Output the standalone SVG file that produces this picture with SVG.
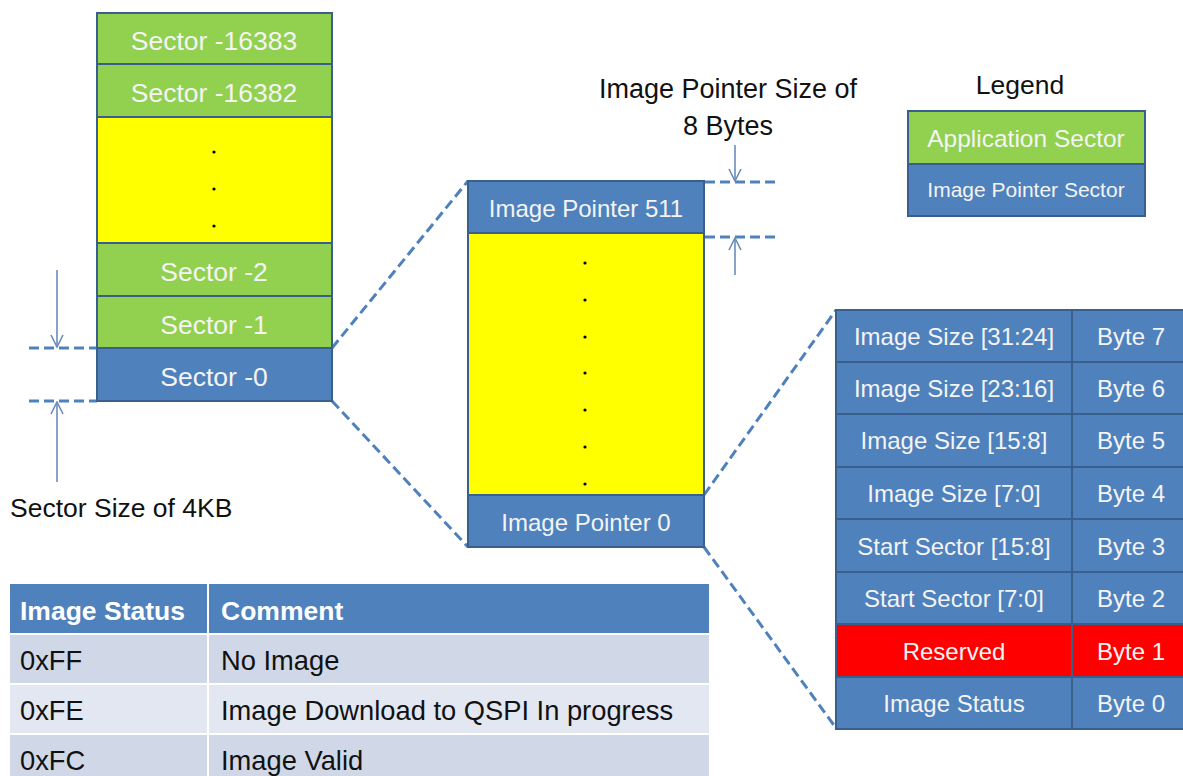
<svg xmlns="http://www.w3.org/2000/svg" width="1183" height="776" viewBox="0 0 1183 776">
<defs>
<style>
text{font-family:"Liberation Sans",Arial,sans-serif;}
.g{fill:#92D050;stroke:#3A5F8C;stroke-width:2;}
.b{fill:#4F81BD;stroke:#3A5F8C;stroke-width:2;}
.y{fill:#FFFF00;stroke:#3A5F8C;stroke-width:2;}
.r{fill:#FF0000;stroke:#3A5F8C;stroke-width:2;}
.w{fill:#F4F4F4;text-anchor:middle;}
.s{font-size:26.5px;}
.m{font-size:24px;}
.k{fill:#111;}
.dash{fill:none;stroke:#4F81BD;stroke-width:3;stroke-dasharray:10 5;}
.arr{fill:none;stroke:#6A8CBC;stroke-width:1.6;}
.hd{fill:#FFFFFF;font-weight:bold;font-size:26.5px;}
.td{fill:#111;font-size:27.3px;}
</style>
<marker id="ah" viewBox="0 0 14 14" refX="13" refY="7" markerWidth="14" markerHeight="14" markerUnits="userSpaceOnUse" orient="auto">
<path d="M1,1 L13,7 L1,13" fill="none" stroke="#6A8CBC" stroke-width="1.6"/>
</marker>
</defs>
<rect width="1183" height="776" fill="#FFFFFF"/>

<g id="connectors">
<line class="dash" x1="332" y1="348" x2="468" y2="181"/>
<line class="dash" x1="332" y1="401" x2="468" y2="547"/>
<line class="dash" x1="704" y1="495" x2="836" y2="310"/>
<line class="dash" x1="704" y1="547" x2="836" y2="728"/>
<line class="dash" x1="29" y1="348" x2="97" y2="348"/>
<line class="dash" x1="29" y1="401" x2="97" y2="401"/>
<line class="dash" x1="705" y1="182" x2="778" y2="182"/>
<line class="dash" x1="705" y1="237" x2="778" y2="237"/>
<line class="arr" x1="57" y1="270" x2="57" y2="347" marker-end="url(#ah)"/>
<line class="arr" x1="57" y1="482" x2="57" y2="402" marker-end="url(#ah)"/>
<line class="arr" x1="735" y1="145" x2="735" y2="181" marker-end="url(#ah)"/>
<line class="arr" x1="735" y1="275" x2="735" y2="238" marker-end="url(#ah)"/>
</g>

<g id="sector-16383"><rect class="g" x="97" y="13" width="235" height="51"/><text class="w s" x="214" y="50">Sector -16383</text></g>
<g id="sector-16382"><rect class="g" x="97" y="64" width="235" height="53"/><text class="w s" x="214" y="102">Sector -16382</text></g>
<g id="sector-gap"><rect class="y" x="97" y="117" width="235" height="126"/>
<circle cx="214" cy="152" r="1.6" fill="#000"/><circle cx="214" cy="189" r="1.6" fill="#000"/><circle cx="214" cy="226" r="1.6" fill="#000"/></g>
<g id="sector-2"><rect class="g" x="97" y="243" width="235" height="53"/><text class="w s" x="214" y="281">Sector -2</text></g>
<g id="sector-1"><rect class="g" x="97" y="296" width="235" height="52"/><text class="w s" x="214" y="334">Sector -1</text></g>
<g id="sector-0"><rect class="b" x="97" y="348" width="235" height="53"/><text class="w s" x="214" y="386">Sector -0</text></g>

<g id="sector-size-label"><text class="k" x="10" y="517" font-size="26.5">Sector Size of 4KB</text></g>

<g id="pointer-size-label"><text class="k" x="728" y="98" font-size="27" text-anchor="middle">Image Pointer Size of</text><text class="k" x="728" y="135" font-size="27" text-anchor="middle">8 Bytes</text></g>

<g id="image-pointer-511"><rect class="b" x="468" y="181" width="236" height="52"/><text class="w m" x="586" y="217">Image Pointer 511</text></g>
<g id="pointer-gap"><rect class="y" x="468" y="233" width="236" height="262"/>
<circle cx="585" cy="263" r="1.6" fill="#000"/><circle cx="585" cy="300" r="1.6" fill="#000"/><circle cx="585" cy="337" r="1.6" fill="#000"/><circle cx="585" cy="373" r="1.6" fill="#000"/><circle cx="585" cy="410" r="1.6" fill="#000"/><circle cx="585" cy="447" r="1.6" fill="#000"/><circle cx="585" cy="484" r="1.6" fill="#000"/></g>
<g id="image-pointer-0"><rect class="b" x="468" y="495" width="236" height="52"/><text class="w m" x="586" y="531">Image Pointer 0</text></g>

<g id="legend">
<text class="k" x="1020" y="94" font-size="26.5" text-anchor="middle">Legend</text>
<rect class="g" x="908" y="111" width="237" height="53"/><text class="w" x="1026" y="147" font-size="24.5">Application Sector</text>
<rect class="b" x="908" y="164" width="237" height="52"/><text class="w" x="1026" y="197" font-size="21">Image Pointer Sector</text>
</g>

<g id="pointer-fields">
<g id="byte7"><rect class="b" x="836" y="310" width="236" height="52"/><rect class="b" x="1072" y="310" width="120" height="52"/><text class="w m" x="954" y="345">Image Size [31:24]</text><text class="w m" x="1131" y="345">Byte 7</text></g>
<g id="byte6"><rect class="b" x="836" y="362" width="236" height="52"/><rect class="b" x="1072" y="362" width="120" height="52"/><text class="w m" x="954" y="397">Image Size [23:16]</text><text class="w m" x="1131" y="397">Byte 6</text></g>
<g id="byte5"><rect class="b" x="836" y="414" width="236" height="53"/><rect class="b" x="1072" y="414" width="120" height="53"/><text class="w m" x="954" y="449">Image Size [15:8]</text><text class="w m" x="1131" y="449">Byte 5</text></g>
<g id="byte4"><rect class="b" x="836" y="467" width="236" height="52"/><rect class="b" x="1072" y="467" width="120" height="52"/><text class="w m" x="954" y="502">Image Size [7:0]</text><text class="w m" x="1131" y="502">Byte 4</text></g>
<g id="byte3"><rect class="b" x="836" y="519" width="236" height="53"/><rect class="b" x="1072" y="519" width="120" height="53"/><text class="w m" x="954" y="555">Start Sector [15:8]</text><text class="w m" x="1131" y="555">Byte 3</text></g>
<g id="byte2"><rect class="b" x="836" y="572" width="236" height="52"/><rect class="b" x="1072" y="572" width="120" height="52"/><text class="w m" x="954" y="607">Start Sector [7:0]</text><text class="w m" x="1131" y="607">Byte 2</text></g>
<g id="byte1"><rect class="r" x="836" y="624" width="236" height="53"/><rect class="r" x="1072" y="624" width="120" height="53"/><text class="w m" x="954" y="660">Reserved</text><text class="w m" x="1131" y="660">Byte 1</text></g>
<g id="byte0"><rect class="b" x="836" y="677" width="236" height="52"/><rect class="b" x="1072" y="677" width="120" height="52"/><text class="w m" x="954" y="712">Image Status</text><text class="w m" x="1131" y="712">Byte 0</text></g>
</g>

<g id="status-table">
<rect x="10" y="584" width="699" height="49" fill="#4F81BD"/>
<rect x="10" y="635" width="699" height="48" fill="#D0D8E8"/>
<rect x="10" y="685" width="699" height="48" fill="#E3E7F1"/>
<rect x="10" y="735" width="699" height="45" fill="#D0D8E8"/>
<line x1="208" y1="584" x2="208" y2="776" stroke="#FFFFFF" stroke-width="2"/>
<text class="hd" x="20" y="620">Image Status</text>
<text class="hd" x="221" y="620">Comment</text>
<text class="td" x="20" y="670">0xFF</text><text class="td" x="221" y="670">No Image</text>
<text class="td" x="20" y="720">0xFE</text><text class="td" x="221" y="720">Image Download to QSPI In progress</text>
<text class="td" x="20" y="770">0xFC</text><text class="td" x="221" y="770">Image Valid</text>
</g>
</svg>
